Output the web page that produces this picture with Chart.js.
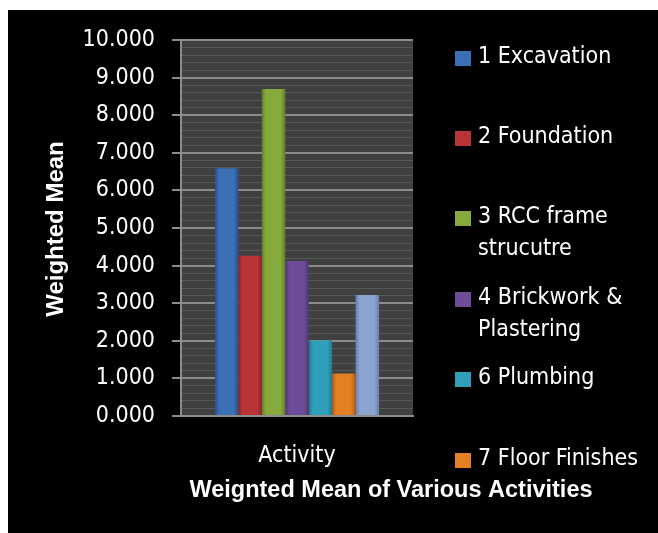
<!DOCTYPE html>
<html>
<head>
<meta charset="utf-8">
<script src="https://cdn.jsdelivr.net/npm/chart.js@4.4.0/dist/chart.umd.min.js"></script>
<style>
  html, body { margin: 0; padding: 0; background: #fff; }
  #wrap { width: 658px; height: 533px; }
</style>
</head>
<body>
<div id="wrap"><canvas id="chart" width="658" height="533"></canvas></div>
<script>
// data
const categories = ['Activity'];
const activityNames = ['1 Excavation', '2 Foundation', '3 RCC frame strucutre', '4 Brickwork & Plastering', '6 Plumbing', '7 Floor Finishes', ''];
const weightedMeans = [6.59, 4.26, 8.70, 4.12, 2.01, 1.13, 3.22];
const barColors = ['#3b6fb6', '#b93437', '#86aa3b', '#6d4c9a', '#2f9fba', '#e47f23', '#8ba4d0'];
const barDark = ['#2a5089', '#8a2528', '#628029', '#4f366f', '#22778c', '#b05f18', '#6680ad'];
// legend lines (Excel wraps the long names)
const legendLines = [['1 Excavation'], ['2 Foundation'], ['3 RCC frame', 'strucutre'], ['4 Brickwork &', 'Plastering'], ['6 Plumbing'], ['7 Floor Finishes']];
const legendY = [57, 137, 217, 298, 378, 459];

const isMajor = v => Math.abs(v - Math.round(v)) < 1e-6;
const tickFont = { family: 'DejaVu Sans Condensed', size: 23 };

// 棒の横方向グラデーション
function barFill(context) {
    const i = context.datasetIndex;
    const el = context.element;
    if (!el || el.x == null || !el.width) return barColors[i];
    const x0 = el.x - el.width / 2;
    const g = context.chart.ctx.createLinearGradient(x0, 0, x0 + el.width, 0);
    g.addColorStop(0, barDark[i]);
    g.addColorStop(0.18, barColors[i]);
    g.addColorStop(0.8, barColors[i]);
    g.addColorStop(1, barDark[i]);
    return g;
}

// 背景と凡例・タイトルを描くプラグイン
const decor = {
    id: 'decor',
    beforeDraw(chart) {
        const c = chart.ctx;
        const a = chart.chartArea;
        c.save();
        c.fillStyle = '#ffffff';
        c.fillRect(0, 0, chart.width, chart.height);
        c.fillStyle = '#000000';
        c.fillRect(8, 10, chart.width - 8, chart.height - 10);
        c.fillStyle = '#404040';
        c.fillRect(a.left, a.top, a.right - a.left, a.bottom - a.top);
        c.restore();
    },
    afterDraw(chart) {
        const c = chart.ctx;
        c.save();
        // y axis title
        c.fillStyle = '#ffffff';
        c.font = 'bold 24px "Liberation Sans"';
        c.textAlign = 'center';
        c.textBaseline = 'middle';
        c.translate(56, 229);
        c.rotate(-Math.PI / 2);
        c.fillText('Weighted Mean', 0, 0);
        c.restore();

        c.save();
        c.fillStyle = '#ffffff';
        c.font = 'bold 23.5px "Liberation Sans"';
        c.textAlign = 'center';
        c.textBaseline = 'alphabetic';
        c.fillText('Weignted Mean of Various Activities', 391, 497);
        c.restore();

        // legend
        c.save();
        c.font = '23px "DejaVu Sans Condensed"';
        c.textBaseline = 'middle';
        c.textAlign = 'left';
        legendLines.forEach((lines, i) => {
            const y = legendY[i];
            c.fillStyle = barColors[i];
            c.fillRect(455, y - 6, 16, 15);
            c.fillStyle = '#ffffff';
            lines.forEach((t, j) => c.fillText(t, 478, y + j * 32));
        });
        c.restore();
    }
};

const datasets = activityNames.map((name, i) => ({
    label: name,
    data: [weightedMeans[i]],
    backgroundColor: barFill,
    borderWidth: 0,
    categoryPercentage: 0.707,
    barPercentage: 1.0
}));

const chart = new Chart(document.getElementById('chart'), {
    type: 'bar',
    data: { labels: categories, datasets: datasets },
    options: {
        responsive: false,
        animation: false,
        layout: { padding: { left: 0, top: 40, right: 245, bottom: 0 } },
        plugins: {
            legend: { display: false },
            tooltip: { enabled: false }
        },
        scales: {
            x: {
                afterFit(scale) { scale.height = 117; },
                grid: { display: false },
                border: { display: true, color: '#8c8c8c', width: 2 },
                ticks: { color: '#ffffff', font: tickFont, padding: 18 }
            },
            y: {
                min: 0,
                max: 10,
                afterFit(scale) { scale.width = 181; },
                border: { display: true, color: '#8c8c8c', width: 2 },
                grid: {
                    color: ctx => isMajor(ctx.tick.value) ? '#8c8c8c' : '#585858',
                    lineWidth: ctx => isMajor(ctx.tick.value) ? 2 : 1,
                    tickColor: ctx => isMajor(ctx.tick.value) ? '#8c8c8c' : 'rgba(0,0,0,0)',
                    tickLength: 9
                },
                ticks: {
                    stepSize: 0.2,
                    autoSkip: false,
                    color: '#ffffff',
                    font: tickFont,
                    padding: 17,
                    callback: v => isMajor(v) ? Math.round(v).toFixed(3) : ''
                }
            }
        }
    },
    plugins: [decor]
});
// 要素の位置が決まってからグラデーションを再計算
chart.update();
</script>
</body>
</html>
